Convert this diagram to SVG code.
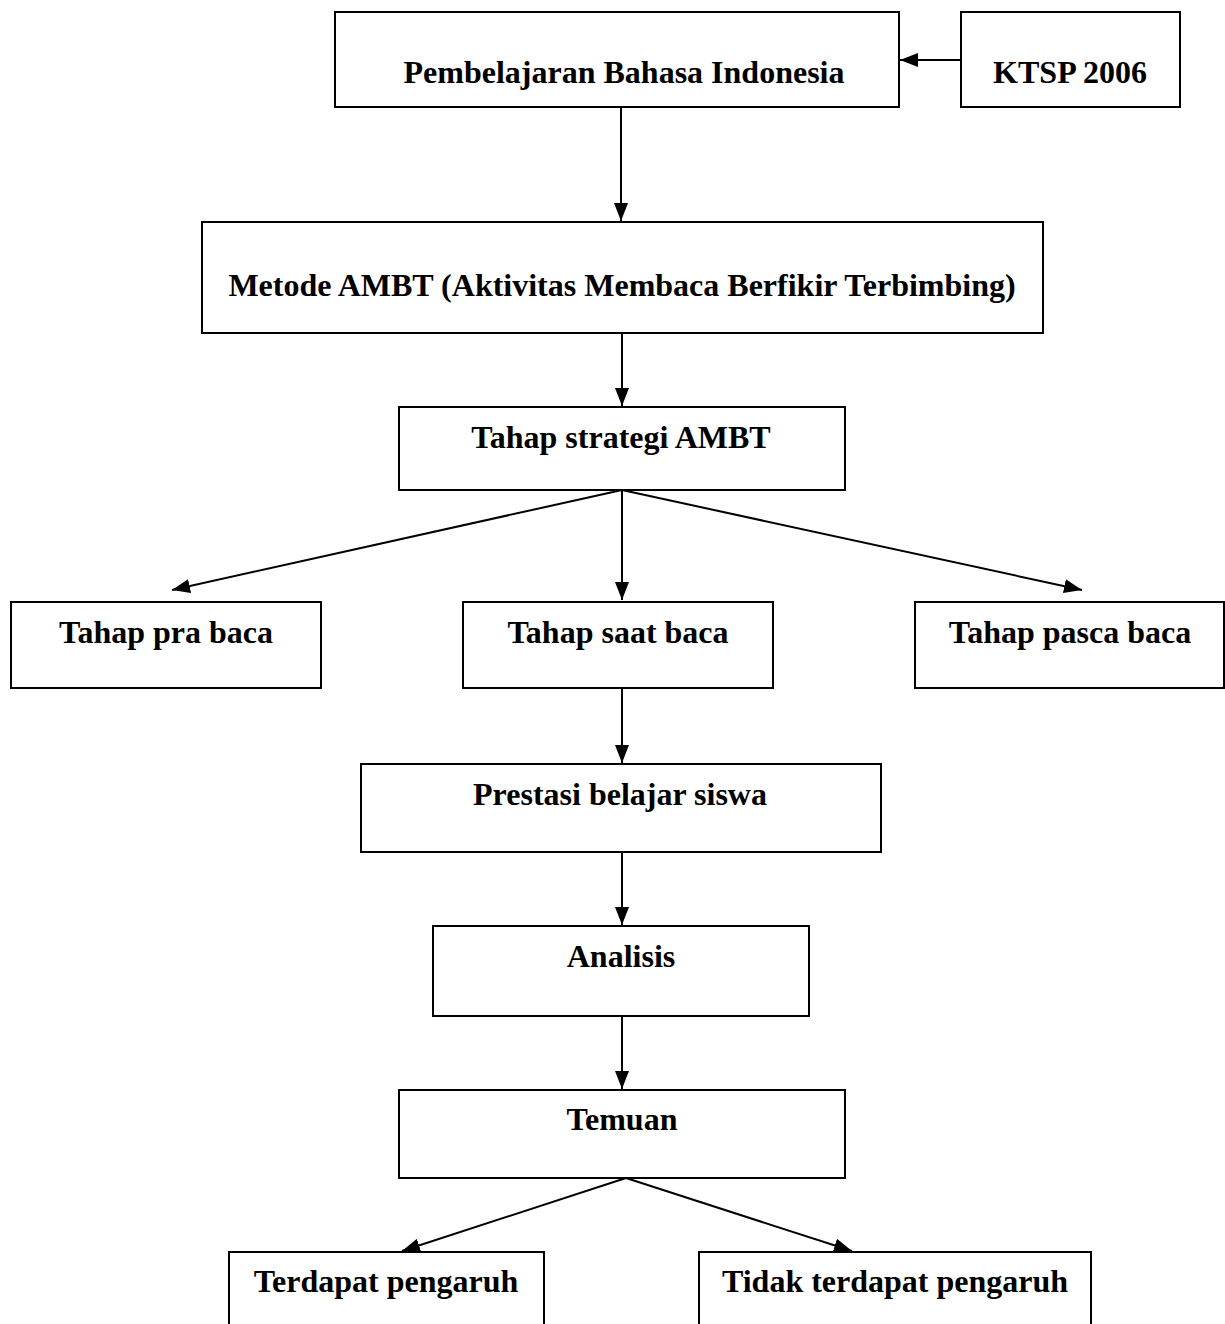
<svg xmlns="http://www.w3.org/2000/svg" width="1225" height="1324" viewBox="0 0 1225 1324">
<style>
.box{fill:#fff;stroke:#000;stroke-width:2}
.t{font-family:"Liberation Serif","Times New Roman",serif;font-weight:bold;font-size:32px;fill:#000;text-anchor:middle}
.c{stroke:#000;stroke-width:2;fill:none;marker-end:url(#ah)}
</style>
<defs>
<marker id="ah" markerUnits="userSpaceOnUse" markerWidth="18" markerHeight="14" viewBox="0 0 18 14" refX="18" refY="7" orient="auto">
<path d="M0,0 L18,7 L0,14 Z" fill="#000"/>
</marker>
</defs>
<rect width="1225" height="1324" fill="#fff"/>
<g id="connectors">
<line class="c" x1="961" y1="60" x2="900" y2="60"/>
<line class="c" x1="621" y1="107" x2="621" y2="221"/>
<line class="c" x1="622" y1="333" x2="622" y2="406"/>
<line class="c" x1="622" y1="490" x2="622" y2="600"/>
<line class="c" x1="622" y1="490" x2="172" y2="590"/>
<line class="c" x1="622" y1="490" x2="1082" y2="590"/>
<line class="c" x1="622" y1="688" x2="622" y2="763"/>
<line class="c" x1="622" y1="852" x2="622" y2="925"/>
<line class="c" x1="622" y1="1016" x2="622" y2="1089"/>
<line class="c" x1="626" y1="1178" x2="402" y2="1251"/>
<line class="c" x1="626" y1="1178" x2="852" y2="1251"/>
</g>
<g id="n-pembelajaran"><rect class="box" x="335" y="12" width="564" height="95"/><text class="t" x="624" y="83">Pembelajaran Bahasa Indonesia</text></g>
<g id="n-ktsp"><rect class="box" x="961" y="12" width="219" height="95"/><text class="t" x="1070" y="83">KTSP 2006</text></g>
<g id="n-metode"><rect class="box" x="202" y="222" width="841" height="111"/><text class="t" x="622" y="296">Metode AMBT (Aktivitas Membaca Berfikir Terbimbing)</text></g>
<g id="n-strategi"><rect class="box" x="399" y="407" width="446" height="83"/><text class="t" x="621" y="448">Tahap strategi AMBT</text></g>
<g id="n-pra"><rect class="box" x="11" y="602" width="310" height="86"/><text class="t" x="166" y="643">Tahap pra baca</text></g>
<g id="n-saat"><rect class="box" x="463" y="602" width="310" height="86"/><text class="t" x="618" y="643">Tahap saat baca</text></g>
<g id="n-pasca"><rect class="box" x="915" y="602" width="309" height="86"/><text class="t" x="1070" y="643">Tahap pasca baca</text></g>
<g id="n-prestasi"><rect class="box" x="361" y="764" width="520" height="88"/><text class="t" x="620" y="805">Prestasi belajar siswa</text></g>
<g id="n-analisis"><rect class="box" x="433" y="926" width="376" height="90"/><text class="t" x="621" y="967">Analisis</text></g>
<g id="n-temuan"><rect class="box" x="399" y="1090" width="446" height="88"/><text class="t" x="622" y="1130">Temuan</text></g>
<g id="n-terdapat"><rect class="box" x="229" y="1252" width="315" height="80"/><text class="t" x="386" y="1292">Terdapat pengaruh</text></g>
<g id="n-tidak"><rect class="box" x="699" y="1252" width="392" height="80"/><text class="t" x="895" y="1292">Tidak terdapat pengaruh</text></g>
</svg>
